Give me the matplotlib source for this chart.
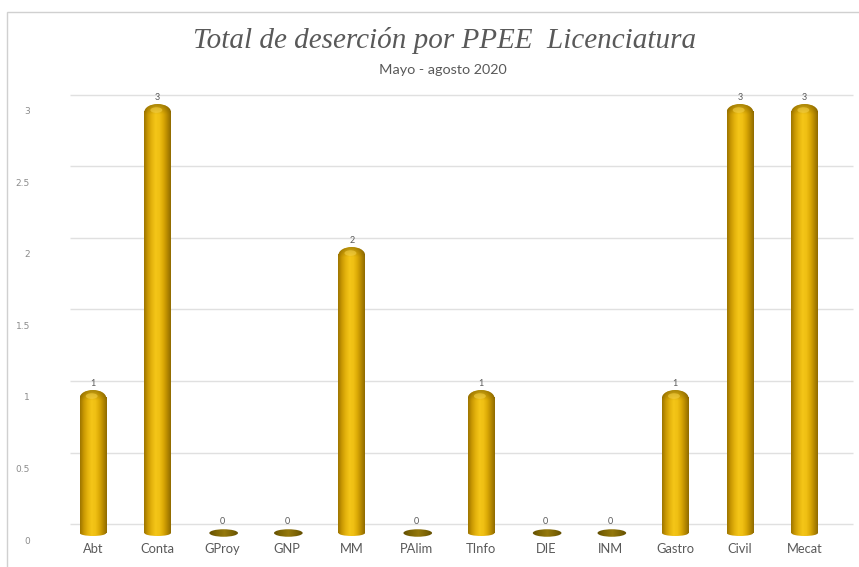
import matplotlib
matplotlib.use("Agg")
import matplotlib.pyplot as plt
import matplotlib.transforms as mtransforms
from matplotlib.colors import LinearSegmentedColormap, to_rgb
from matplotlib.patches import Ellipse, Rectangle
import numpy as np

categories = ["Abt", "Conta", "GProy", "GNP", "MM", "PAlim", "TInfo", "DIE", "INM", "Gastro", "Civil", "Mecat"]
values = [1, 3, 0, 0, 2, 0, 1, 0, 0, 1, 3, 3]
yticks = [0, 0.5, 1, 1.5, 2, 2.5, 3]
ytick_labels = ["0", "0.5", "1", "1.5", "2", "2.5", "3"]
title = "Total de deserción por PPEE  Licenciatura"
subtitle = "Mayo - agosto 2020"

W, H = 859, 567
fig = plt.figure(figsize=(W / 100, H / 100), dpi=100)
fig.patch.set_facecolor("white")

# chart frame
fig.add_artist(Rectangle((7 / W, -0.05), 1.2, 1 - 12 / H + 0.05, transform=fig.transFigure,
                         fill=False, edgecolor="#d0d0d0", lw=1.0))

YMIN, YMAX = -0.1, 3.5
PPU = 143.0  # pixels per unit
bottom_px = 533 + (-YMIN) * PPU
ax = fig.add_axes([60.6 / W, (H - bottom_px) / H, 776.4 / W, (YMAX - YMIN) * PPU / H])
ax.set_xlim(-0.5, len(categories) - 0.5)
ax.set_ylim(YMIN, YMAX)
for s in ax.spines.values():
    s.set_visible(False)
ax.set_facecolor("none")

# gridlines (offset upward as in the 3D perspective of the original)
grid_tr = mtransforms.blended_transform_factory(ax.transAxes, ax.transData) + \
    mtransforms.ScaledTranslation(0, 9 / 100, fig.dpi_scale_trans)
ax.hlines(yticks, 0.012, 1.02, transform=grid_tr, colors="#e0e0e0", lw=1.0, clip_on=False, zorder=0)

# y tick labels (offset downward)
ax.set_yticks(yticks)
ax.set_yticklabels(ytick_labels)
ax.tick_params(axis="y", length=0, pad=22, labelsize=6.5, labelcolor="#8c8c8c")
for lab in ax.get_yticklabels():
    lab.set_transform(lab.get_transform() + mtransforms.ScaledTranslation(0, -7 / 100, fig.dpi_scale_trans))

ax.set_xticks(range(len(categories)))
ax.set_xticklabels(categories)
ax.tick_params(axis="x", length=0, pad=0, labelsize=9.3, labelcolor="#595959")
for lab in ax.get_xticklabels():
    lab.set_fontfamily("Lato")
    lab.set_transform(lab.get_transform() + mtransforms.ScaledTranslation(0, 4 / 100, fig.dpi_scale_trans))

body_cmap = LinearSegmentedColormap.from_list(
    "gold", ["#9c7400", "#c99803", "#e4b30d", "#f4c618", "#f0c014", "#dcaa06", "#b88a00", "#8e6a00"])
zero_cmap = LinearSegmentedColormap.from_list("zero", ["#5a4800", "#7e6605", "#94780c", "#7a6204", "#584600"])

grad = np.linspace(0, 1, 256).reshape(1, -1)

# darkening overlay for top dome (dark at top, transparent toward bottom)
dome_rgba = np.zeros((64, 1, 4))
dome_rgba[..., :3] = to_rgb("#6e5400")
dome_rgba[:, 0, 3] = np.clip(np.linspace(0.55, -0.3, 64), 0, 1)

w = 0.41
dome_h = 16 / PPU
bot_h = 6 / PPU
bars = ax.bar(range(len(categories)), values, width=w, color="none", edgecolor="none")

for rect, v in zip(bars, values):
    x0 = rect.get_x()
    xc = x0 + rect.get_width() / 2
    if v > 0:
        top_c = v - dome_h / 2
        # bottom rounded end
        e_bot = Ellipse((xc, 0), w, bot_h, facecolor="none", edgecolor="none")
        ax.add_patch(e_bot)
        im = ax.imshow(grad, cmap=body_cmap, extent=(x0, x0 + w, -bot_h, v), aspect="auto", zorder=2)
        im.set_clip_path(e_bot)
        # body
        ax.imshow(grad, cmap=body_cmap, extent=(x0, x0 + w, 0, top_c), aspect="auto", zorder=2)
        # top dome
        e_top = Ellipse((xc, top_c), w, dome_h, facecolor="none", edgecolor="none")
        ax.add_patch(e_top)
        im3 = ax.imshow(grad, cmap=body_cmap, extent=(x0, x0 + w, top_c - dome_h, v),
                        aspect="auto", zorder=3)
        im3.set_clip_path(e_top)
        im4 = ax.imshow(dome_rgba, extent=(x0, x0 + w, top_c - dome_h / 2, v),
                        aspect="auto", zorder=4, interpolation="bilinear")
        im4.set_clip_path(e_top)
        hl = Ellipse((xc - 0.02, top_c + dome_h * 0.12), w * 0.45, dome_h * 0.35,
                     facecolor="#f6d24a", edgecolor="none", alpha=0.55, zorder=5)
        ax.add_patch(hl)
        label_y = v
    else:
        e0 = Ellipse((xc + 0.02, 0), w * 1.08, 7.5 / PPU, facecolor="none", edgecolor="none")
        ax.add_patch(e0)
        im0 = ax.imshow(grad, cmap=zero_cmap, extent=(x0 - 0.02, x0 + w + 0.07, -0.04, 0.04),
                        aspect="auto", zorder=2)
        im0.set_clip_path(e0)
        label_y = 0.035
    ax.annotate(str(v), (xc, label_y), xytext=(0, 1.5), textcoords="offset points",
                ha="center", va="bottom", fontsize=6.5, color="#595959", fontfamily="Lato")

ax.set_xlim(-0.5, len(categories) - 0.5)
ax.set_ylim(YMIN, YMAX)

fig.text(445 / W, 1 - 40 / H, title, ha="center", va="center", fontsize=21,
         fontstyle="italic", fontfamily="Liberation Serif", color="#595959")
fig.text(443 / W, 1 - 70 / H, subtitle, ha="center", va="center", fontsize=10.4,
         fontfamily="Lato", color="#595959")

fig.savefig("out.png", dpi=100)
